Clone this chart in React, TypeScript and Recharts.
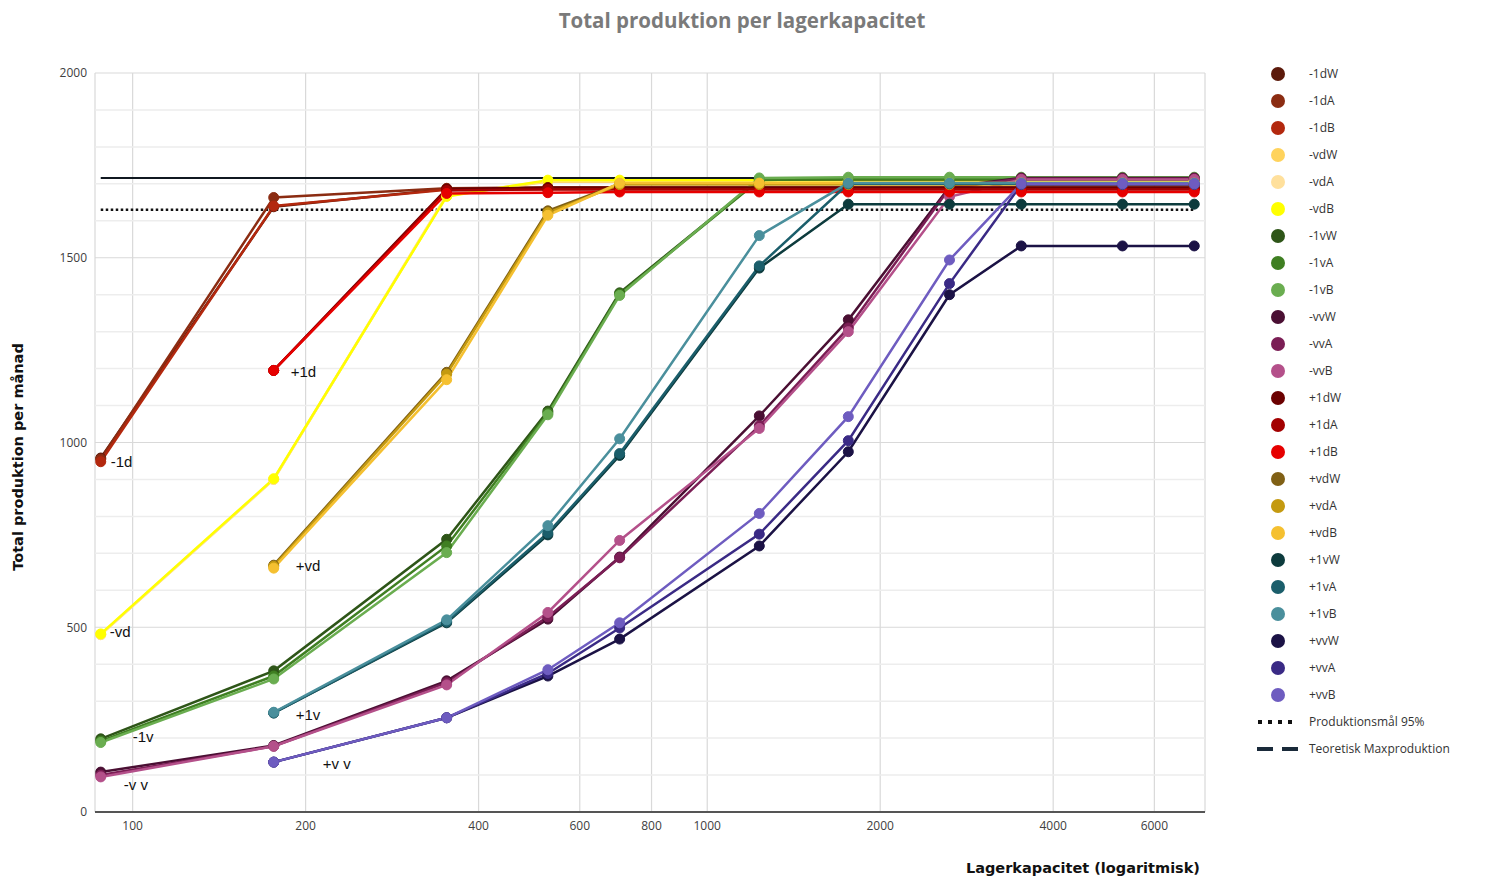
import React from "react"
import {
  CartesianGrid,
  Line,
  LineChart,
  ReferenceDot,
  ReferenceLine,
  XAxis,
  YAxis,
} from "recharts"

// Lagerkapacitet (x) values
const capacities = [88, 176, 352, 528, 704, 1232, 1760, 2640, 3520, 5280, 7040]

// series values, aligned with capacities (null = no point)
const m1dW = [958, 1638, 1686, 1688, 1688, 1688, 1688, 1688, 1688, 1688, 1688]
const m1dA = [955, 1663, 1688, 1690, 1690, 1690, 1690, 1690, 1690, 1690, 1690]
const m1dB = [948, 1640, 1684, 1686, 1686, 1686, 1686, 1686, 1686, 1686, 1686]
const mvdW = [480, 900, 1668, 1706, 1706, 1706, 1706, 1706, 1706, 1706, 1706]
const mvdA = [480, 900, 1670, 1708, 1708, 1708, 1708, 1708, 1708, 1708, 1708]
const mvdB = [482, 902, 1666, 1710, 1710, 1710, 1710, 1710, 1710, 1710, 1710]
const m1vW = [198, 382, 738, 1085, 1405, 1712, 1712, 1712, 1712, 1712, 1712]
const m1vA = [192, 368, 720, 1080, 1402, 1710, 1714, 1714, 1714, 1714, 1714]
const m1vB = [188, 360, 702, 1075, 1398, 1716, 1718, 1718, 1718, 1718, 1718]
const mvvW = [108, 180, 355, 522, 690, 1072, 1332, 1692, 1716, 1716, 1716]
const mvvA = [100, 178, 350, 528, 688, 1045, 1310, 1688, 1714, 1714, 1714]
const mvvB = [95, 178, 344, 540, 735, 1038, 1300, 1665, 1712, 1712, 1712]
const p1dW = [null, 1195, 1686, 1690, 1690, 1690, 1690, 1690, 1690, 1690, 1690]
const p1dA = [null, 1195, 1682, 1685, 1685, 1685, 1685, 1685, 1685, 1685, 1685]
const p1dB = [null, 1195, 1674, 1676, 1678, 1678, 1678, 1678, 1678, 1678, 1678]
const pvdW = [null, 668, 1190, 1627, 1700, 1700, 1700, 1700, 1700, 1700, 1700]
const pvdA = [null, 665, 1185, 1622, 1698, 1698, 1698, 1698, 1698, 1698, 1698]
const pvdB = [null, 660, 1170, 1615, 1702, 1702, 1702, 1702, 1702, 1702, 1702]
const p1vW = [null, 268, 512, 750, 965, 1472, 1645, 1645, 1645, 1645, 1645]
const p1vA = [null, 268, 515, 755, 970, 1478, 1700, 1700, 1700, 1700, 1700]
const p1vB = [null, 270, 520, 775, 1010, 1560, 1702, 1702, 1702, 1702, 1702]
const pvvW = [null, 135, 255, 368, 468, 720, 975, 1400, 1532, 1532, 1532]
const pvvA = [null, 135, 255, 375, 498, 752, 1005, 1430, 1698, 1698, 1698]
const pvvB = [null, 135, 255, 385, 512, 808, 1070, 1494, 1700, 1700, 1700]

const maxProduction = 1716
const productionTarget = 1630

const xTicks = [100, 200, 400, 600, 800, 1000, 2000, 4000, 6000]
const yTicks = [0, 500, 1000, 1500, 2000]
const yMinor = [100, 200, 300, 400, 600, 700, 800, 900, 1100, 1200, 1300, 1400, 1600, 1700, 1800, 1900]

const series = [
  { name: "-1dW", values: m1dW, color: "#5c1a0b" },
  { name: "-1dA", values: m1dA, color: "#8b2c12" },
  { name: "-1dB", values: m1dB, color: "#b3280e" },
  { name: "-vdW", values: mvdW, color: "#ffd35c" },
  { name: "-vdA", values: mvdA, color: "#ffe09c" },
  { name: "-vdB", values: mvdB, color: "#ffff00" },
  { name: "-1vW", values: m1vW, color: "#2e5518" },
  { name: "-1vA", values: m1vA, color: "#3f7f22" },
  { name: "-1vB", values: m1vB, color: "#6aad50" },
  { name: "-vvW", values: mvvW, color: "#4a0f33" },
  { name: "-vvA", values: mvvA, color: "#7b1e55" },
  { name: "-vvB", values: mvvB, color: "#b4508a" },
  { name: "+1dW", values: p1dW, color: "#6b0000" },
  { name: "+1dA", values: p1dA, color: "#a30000" },
  { name: "+1dB", values: p1dB, color: "#e60000" },
  { name: "+vdW", values: pvdW, color: "#806015" },
  { name: "+vdA", values: pvdA, color: "#c49a10" },
  { name: "+vdB", values: pvdB, color: "#f5c030" },
  { name: "+1vW", values: p1vW, color: "#0d3b3d" },
  { name: "+1vA", values: p1vA, color: "#1b5e6b" },
  { name: "+1vB", values: p1vB, color: "#4a8f9c" },
  { name: "+vvW", values: pvvW, color: "#1b1245" },
  { name: "+vvA", values: pvvA, color: "#3a2a85" },
  { name: "+vvB", values: pvvB, color: "#6e5cc0" },
]

// group labels, anchored at the first point of the group
const groupLabels = [
  { text: "-1d", x: 88, y: m1dB[0], dx: 10, dy: 1 },
  { text: "+1d", x: 176, y: p1dB[1], dx: 17, dy: 3 },
  { text: "-vd", x: 88, y: mvdB[0], dx: 9, dy: -1 },
  { text: "+vd", x: 176, y: pvdB[1], dx: 22, dy: -1 },
  { text: "-1v", x: 88, y: m1vB[0], dx: 32, dy: -5 },
  { text: "+1v", x: 176, y: p1vA[1], dx: 22, dy: 3 },
  { text: "-v v", x: 88, y: mvvB[0], dx: 23, dy: 9 },
  { text: "+v v", x: 176, y: pvvB[1], dx: 49, dy: 3 },
]

const data = capacities.map((x, i) => {
  const row: Record<string, number | null> = { x }
  series.forEach((s) => {
    row[s.name] = s.values[i]
  })
  return row
})

const font = "'Open Sans', 'Noto Sans', sans-serif"
const wideFont = "'DejaVu Sans', Verdana, sans-serif"

function ChartLegend() {
  return (
    <div style={{ position: "absolute", left: 1243, top: 52, fontFamily: font, fontSize: 12, color: "#333" }}>
      {series.map((s) => (
        <div key={s.name} style={{ display: "flex", alignItems: "center", height: 27 }}>
          <svg width={58} height={16}>
            <circle cx={27} cy={8} r={7} fill={s.color} />
          </svg>
          <span>{s.name}</span>
        </div>
      ))}
      <div style={{ display: "flex", alignItems: "center", height: 27 }}>
        <svg width={58} height={16}>
          <line x1={7} x2={47} y1={8} y2={8} stroke="#111" strokeWidth={4} strokeDasharray="4 6" />
        </svg>
        <span>Produktionsmål 95%</span>
      </div>
      <div style={{ display: "flex", alignItems: "center", height: 27 }}>
        <svg width={58} height={16}>
          <line x1={6} x2={48} y1={8} y2={8} stroke="#1a2a3a" strokeWidth={4} strokeDasharray="16 9" />
        </svg>
        <span>Teoretisk Maxproduktion</span>
      </div>
    </div>
  )
}

export default function App() {
  return (
    <div style={{ position: "relative", width: 1475, height: 868, background: "#fff" }}>
      <div
        style={{
          position: "absolute",
          left: 0,
          width: 1468,
          top: -2,
          textAlign: "center",
          fontFamily: font,
          fontWeight: 700,
          fontSize: 20.5,
          color: "#7a7a7a",
        }}
      >
        Total produktion per lagerkapacitet
      </div>
      <LineChart width={1475} height={868} data={data} margin={{ top: 65, right: 278, bottom: 34, left: 27 }}>
        {yMinor.map((v) => (
          <ReferenceLine key={v} y={v} stroke="#ededed" strokeWidth={1.5} />
        ))}
        <CartesianGrid stroke="#d9d9d9" strokeWidth={1.2} />
        <XAxis
          dataKey="x"
          type="number"
          scale="log"
          domain={[86, 7350]}
          ticks={xTicks}
          allowDataOverflow
          height={30}
          tickSize={0}
          tickMargin={9}
          axisLine={{ stroke: "#555", strokeWidth: 2 }}
          tick={{ fontSize: 12, fill: "#404040", fontFamily: font }}
        />
        <YAxis
          type="number"
          domain={[0, 2000]}
          ticks={yTicks}
          width={60}
          tickSize={0}
          tickMargin={8}
          axisLine={false}
          tick={{ fontSize: 12, fill: "#404040", fontFamily: font }}
        />
        <ReferenceLine
          segment={[
            { x: capacities[0], y: maxProduction },
            { x: capacities[capacities.length - 1], y: maxProduction },
          ]}
          stroke="#101820"
          strokeWidth={2}
        />
        <ReferenceLine
          segment={[
            { x: capacities[0], y: productionTarget },
            { x: capacities[capacities.length - 1], y: productionTarget },
          ]}
          stroke="#111"
          strokeWidth={2.5}
          strokeDasharray="2.5 2.5"
        />
        {series.map((s) => (
          <Line
            key={s.name}
            dataKey={s.name}
            stroke={s.color}
            strokeWidth={2.5}
            dot={{ r: 5, fill: s.color, stroke: s.color, strokeWidth: 1 }}
            activeDot={false}
            isAnimationActive={false}
          />
        ))}
        {groupLabels.map((g) => (
          <ReferenceDot
            key={g.text}
            x={g.x}
            y={g.y}
            r={0}
            shape={(p: any) => (
              <text x={p.cx + g.dx} y={p.cy + g.dy} dominantBaseline="middle" fontSize={15} fontFamily="'Liberation Sans', Arial, sans-serif" fill="#111">
                {g.text}
              </text>
            )}
          />
        ))}
      </LineChart>
      <div
        style={{
          position: "absolute",
          left: 10,
          top: 449,
          transform: "translate(-50%, -50%) rotate(-90deg)",
          whiteSpace: "nowrap",
          fontFamily: wideFont,
          fontWeight: 700,
          fontSize: 14.5,
          color: "#111",
        }}
      >
        Total produktion per månad
      </div>
      <div
        style={{
          position: "absolute",
          right: 283,
          top: 853,
          whiteSpace: "nowrap",
          fontFamily: wideFont,
          fontWeight: 700,
          fontSize: 14.5,
          lineHeight: "15px",
          color: "#111",
        }}
      >
        Lagerkapacitet (logaritmisk)
      </div>
      <ChartLegend />
    </div>
  )
}
